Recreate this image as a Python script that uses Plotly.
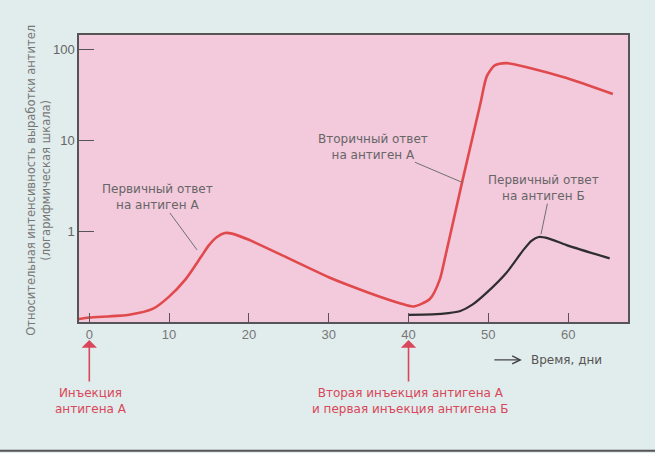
import numpy as np
import plotly.graph_objects as go

# первичный и вторичный ответ на антиген А
days_a = [-1.3, 0, 5, 8, 10, 12, 14, 15, 16, 17, 18, 20, 25, 30, 35, 39, 40.6,
          42.7, 43.9, 44.6, 46.7, 49.0, 49.8, 50.8, 52.3, 55.2, 59.8, 65.6]
resp_a = [0.108, 0.112, 0.12, 0.14, 0.19, 0.29, 0.52, 0.7, 0.86, 0.95, 0.93,
          0.8, 0.5, 0.31, 0.21, 0.16, 0.148, 0.18, 0.29, 0.52, 3.4, 25, 50, 66,
          70, 62, 48, 32]

# первичный ответ на антиген Б
days_b = [40, 43, 45, 46.5, 48, 49.8, 52.3, 54.4, 55.4, 56.3, 57.5, 59.8, 65.2]
resp_b = [0.12, 0.121, 0.125, 0.132, 0.155, 0.21, 0.35, 0.62, 0.78, 0.86,
          0.83, 0.7, 0.5]

x_ticks = [0, 10, 20, 30, 40, 50, 60]
y_ticks = [1, 10, 100]

# выноски: (x0, y0, x1, y1)
leaders = [
    (10.1, 1.58, 13.5, 0.62),
    (40.8, 5.7, 46.8, 3.4),
    (57.4, 2.0, 56.6, 0.92),
]

RED = "#e04a4c"
TXT_RED = "#d8475a"
FONT = "Liberation Sans"
LABEL_FONT = "DejaVu Sans"

fig = go.Figure()

fig.add_trace(go.Scatter(
    x=days_a, y=resp_a, mode="lines",
    line=dict(color=RED, width=2.6, shape="spline", smoothing=0.7),
    hoverinfo="skip"
))
fig.add_trace(go.Scatter(
    x=days_b, y=resp_b, mode="lines",
    line=dict(color="#2e2e2e", width=2.2, shape="spline", smoothing=0.7),
    hoverinfo="skip"
))

for x0, y0, x1, y1 in leaders:
    fig.add_trace(go.Scatter(
        x=[x0, x1], y=[y0, y1], mode="lines",
        line=dict(color="#707070", width=1), hoverinfo="skip"
    ))

notes = [
    (8.5, 2.39, "Первичный ответ<br>на антиген А"),
    (35.5, 8.3, "Вторичный ответ<br>на антиген А"),
    (56.9, 3.0, "Первичный ответ<br>на антиген Б"),
]
for x, y, t in notes:
    fig.add_annotation(
        x=x, y=np.log10(y), text=t, showarrow=False,
        font=dict(family=LABEL_FONT, size=12, color="#666666"),
        xanchor="center", yanchor="middle"
    )

# стрелки инъекций
for x in (0, 40):
    fig.add_annotation(
        x=x, y=-0.063, xref="x", yref="paper",
        ax=0, ay=43, axref="pixel", ayref="pixel",
        text="", showarrow=True, arrowhead=1, arrowsize=1.6,
        arrowwidth=1.6, arrowcolor=TXT_RED
    )

fig.add_annotation(
    x=0.2, y=-0.275, xref="x", yref="paper", text="Инъекция<br>антигена А",
    showarrow=False, font=dict(family=LABEL_FONT, size=12, color=TXT_RED),
    xanchor="center", yanchor="middle"
)
fig.add_annotation(
    x=40.3, y=-0.275, xref="x", yref="paper",
    text="Вторая инъекция антигена А<br>и первая инъекция антигена Б",
    showarrow=False, font=dict(family=LABEL_FONT, size=12, color=TXT_RED),
    xanchor="center", yanchor="middle"
)

# ось времени
fig.add_annotation(
    x=54.2, y=-0.132, xref="x", yref="paper",
    ax=-29, ay=0, axref="pixel", ayref="pixel",
    text="", showarrow=True, arrowhead=5, arrowsize=1.2,
    arrowwidth=1.3, arrowcolor="#444444"
)
fig.add_annotation(
    x=55.1, y=-0.132, xref="x", yref="paper", text="Время, дни",
    showarrow=False, font=dict(family=LABEL_FONT, size=12, color="#555555"),
    xanchor="left", yanchor="middle"
)

fig.add_annotation(
    x=-0.073, y=0.495, xref="paper", yref="paper",
    text="Относительная интенсивность выработки антител<br>(логарифмическая шкала)",
    textangle=-90, showarrow=False,
    font=dict(family=LABEL_FONT, size=11.5, color="#777777"),
    xanchor="center", yanchor="middle"
)

fig.add_shape(
    type="line", xref="paper", yref="paper",
    x0=-0.15, x1=1.06, y0=-0.449, y1=-0.449,
    line=dict(color="#555555", width=2)
)

fig.update_xaxes(
    range=[-1.29, 67.5], tickvals=x_ticks, ticks="inside", ticklen=9,
    tickcolor="#555555", showgrid=False, zeroline=False,
    showline=True, linecolor="#555555", linewidth=1.5, mirror=True,
    tickfont=dict(family=FONT, size=13, color="#777777")
)
fig.update_yaxes(
    type="log", range=[-1, 2.154], tickvals=y_ticks,
    ticktext=["1", "10", "100"], ticks="inside", ticklen=15,
    tickcolor="#555555", showgrid=False, zeroline=False,
    showline=True, linecolor="#555555", linewidth=1.5, mirror=True,
    tickfont=dict(family=FONT, size=13, color="#666666")
)

fig.update_layout(
    width=655, height=453, showlegend=False,
    margin=dict(l=79, r=27, t=35, b=131),
    paper_bgcolor="#e1ecec", plot_bgcolor="#f3c9dc"
)

fig.write_html(
    "out.html",
    config={"displayModeBar": False},
    post_script="document.body.style.margin='0';"
                "document.body.style.background='#e1ecec';"
)
